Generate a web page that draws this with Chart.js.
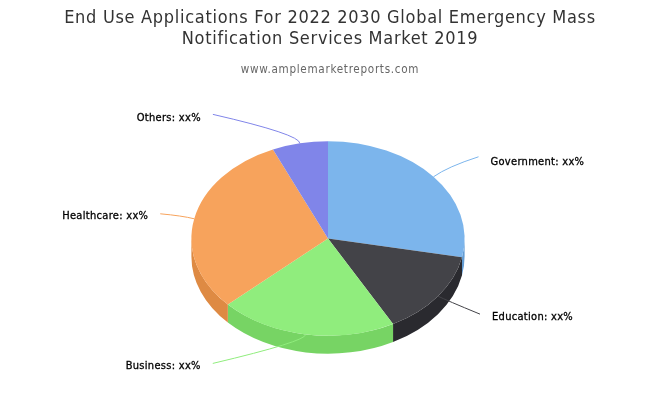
<!DOCTYPE html>
<html>
<head>
<meta charset="utf-8">
<title>End Use Applications</title>
<script src="https://cdn.jsdelivr.net/npm/chart.js@4"></script>
<style>
  body { margin: 0; background: #fff; }
  canvas { display: block; }
</style>
</head>
<body>
<canvas id="pieChart" width="660" height="400"></canvas>
<script>
const categories = ['Government', 'Education', 'Business', 'Healthcare', 'Others'];
const shares = [28.1, 14, 21, 30.3, 6.6];
const sliceColors = ['#7cb5ec', '#434348', '#90ed7d', '#f7a35c', '#8085e9'];
const rimColors = ['#639cd3', '#2a2a2f', '#77d464', '#de8a43', '#676cd0'];
const percentText = 'xx%';

// look of the tilted pie
const pieX = 328, pieY = 238.5, tilt = 97.5 / 137, depth = 18;

// connector of each label: elbow and end, relative to the point on the rim
const connectors = [
  { elbow: [14, -10], end: [45, -20], side: 1, textY: 5 },
  { elbow: [8, 4], end: [42, 18], side: 1, textY: 3 },
  { elbow: [0, 7], end: [-93, 29], side: -1, textY: 3 },
  { elbow: [-12, -3], end: [-34, -5], side: -1, textY: 2 },
  { elbow: [0, -9], end: [-87, -29], side: -1, textY: 4 }
];

function onScreen(angle, radius) {
  return [pieX + Math.cos(angle) * radius, pieY + Math.sin(angle) * radius * tilt];
}

const tiltedPie = {
  id: 'tiltedPie',
  beforeDraw(chart) {
    // title and subtitle are set wide on a condensed face
    chart.ctx.letterSpacing = '0.7px';
  },
  beforeDatasetDraw(chart) {
    const ctx = chart.ctx;
    const arcs = chart.getDatasetMeta(0).data;
    ctx.save();
    ctx.translate(pieX, pieY);
    ctx.scale(1, tilt);
    ctx.translate(-arcs[0].x, -arcs[0].y);

    // side wall, only the front half can be seen
    arcs.forEach((arc, i) => {
      const from = Math.max(arc.startAngle, 0);
      const to = Math.min(arc.endAngle, Math.PI);
      if (to <= from) return;
      ctx.beginPath();
      ctx.arc(arc.x, arc.y + depth / tilt, arc.outerRadius, from, to);
      ctx.arc(arc.x, arc.y, arc.outerRadius, to, from, true);
      ctx.closePath();
      ctx.fillStyle = rimColors[i];
      ctx.fill();
    });
  },
  afterDatasetDraw(chart) {
    chart.ctx.restore();
  },
  afterDatasetsDraw(chart) {
    const ctx = chart.ctx;
    chart.getDatasetMeta(0).data.forEach((arc, i) => {
      const mid = (arc.startAngle + arc.endAngle) / 2;
      const [x, y] = onScreen(mid, arc.outerRadius);
      const c = connectors[i];
      ctx.save();
      ctx.strokeStyle = sliceColors[i];
      ctx.lineWidth = 1;
      ctx.beginPath();
      ctx.moveTo(x, y);
      ctx.quadraticCurveTo(x + c.elbow[0], y + c.elbow[1], x + c.end[0], y + c.end[1]);
      ctx.stroke();

      const text = categories[i] + ': ' + percentText;
      const textX = x + c.end[0] + c.side * 12;
      const textY = y + c.end[1] + c.textY;
      ctx.font = '11px "DejaVu Sans Condensed"';
      ctx.letterSpacing = '0.3px';
      ctx.fillStyle = '#000';
      ctx.strokeStyle = '#000';
      ctx.lineWidth = 0.3;
      ctx.textBaseline = 'middle';
      ctx.textAlign = c.side > 0 ? 'left' : 'right';
      ctx.strokeText(text, textX, textY);
      ctx.fillText(text, textX, textY);
      ctx.restore();
    });
  }
};

new Chart(document.getElementById('pieChart').getContext('2d'), {
  type: 'pie',
  data: {
    labels: categories,
    datasets: [{ data: shares, backgroundColor: sliceColors, borderWidth: 0, hoverOffset: 0 }]
  },
  options: {
    responsive: false,
    animation: false,
    layout: { padding: { bottom: 25 } },
    plugins: {
      legend: { display: false },
      tooltip: { enabled: false },
      title: {
        display: true,
        text: ['End Use Applications For 2022 2030 Global Emergency Mass', 'Notification Services Market 2019'],
        color: '#333',
        font: { family: '"DejaVu Sans Condensed"', size: 18, weight: 'normal', lineHeight: 1.15 },
        padding: { top: 8, bottom: 10 }
      },
      subtitle: {
        display: true,
        text: 'www.amplemarketreports.com',
        color: '#666',
        font: { family: '"DejaVu Sans Condensed"', size: 11.6, weight: 'normal', lineHeight: 1.2 },
        padding: { top: 3.5, bottom: 25 }
      }
    }
  },
  plugins: [tiltedPie]
});
</script>
</body>
</html>
